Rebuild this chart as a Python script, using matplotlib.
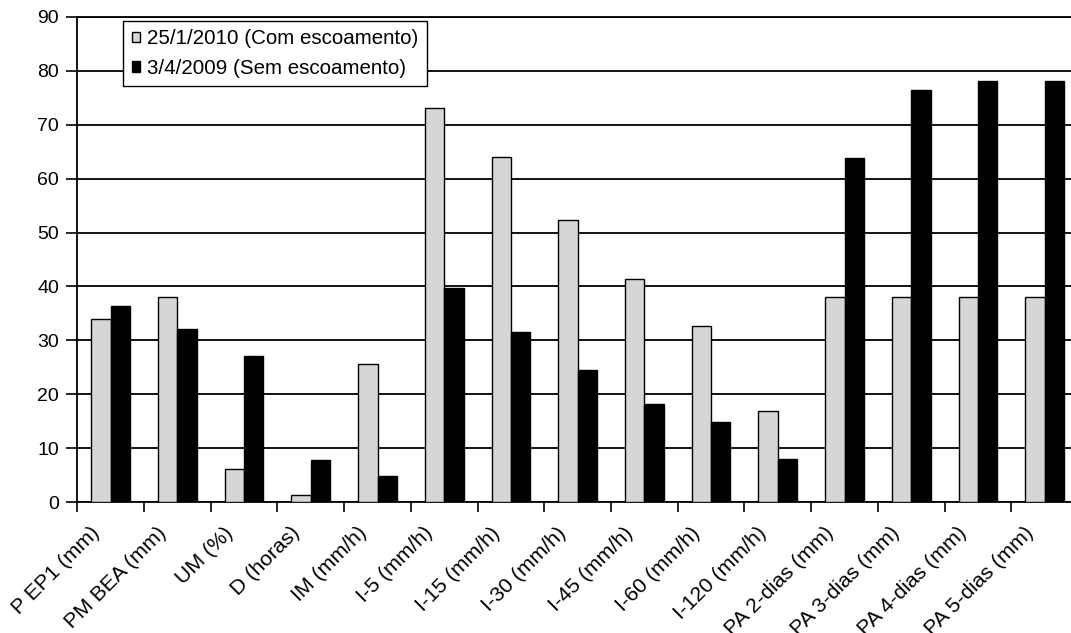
import matplotlib
matplotlib.use("Agg")
import matplotlib.pyplot as plt
import numpy as np

categories = ["P EP1 (mm)", "PM BEA (mm)", "UM (%)", "D (horas)", "IM (mm/h)",
              "I-5 (mm/h)", "I-15 (mm/h)", "I-30 (mm/h)", "I-45 (mm/h)",
              "I-60 (mm/h)", "I-120 (mm/h)", "PA 2-dias (mm)", "PA 3-dias (mm)",
              "PA 4-dias (mm)", "PA 5-dias (mm)"]
com_escoamento = [34.0, 38.1, 6.1, 1.4, 25.6, 73.0, 64.0, 52.3, 41.4, 32.6, 16.9,
                  38.1, 38.1, 38.1, 38.1]
sem_escoamento = [36.4, 32.1, 27.1, 7.9, 4.9, 39.8, 31.6, 24.6, 18.2, 14.9, 8.0,
                  63.9, 76.4, 78.1, 78.1]
label_com = "25/1/2010 (Com escoamento)"
label_sem = "3/4/2009 (Sem escoamento)"
yticks = list(range(0, 100, 10))

plt.rcParams['font.family'] = ['Liberation Sans', 'DejaVu Sans']

W, H = 1071, 633
fig = plt.figure(figsize=(W / 100, H / 100), dpi=100)
left, right, top, bottom = 77.3, 1078, 16.7, 502.3
ax = fig.add_axes([left / W, 1 - bottom / H, (right - left) / W, (bottom - top) / H])

x = np.arange(len(categories))
bw = 0.29
ax.bar(x - bw / 2, com_escoamento, bw, color='#d6d6d6', edgecolor='black',
       linewidth=1.0, label=label_com, zorder=3)
ax.bar(x + bw / 2, sem_escoamento, bw, color='black', edgecolor='black',
       linewidth=1.0, label=label_sem, zorder=3)

ax.set_xlim(-0.5, len(categories) - 0.5)
ax.set_ylim(0, 90)
ax.set_yticks(yticks)
ax.yaxis.grid(True, color='black', linewidth=1.3, zorder=1)
ax.set_axisbelow(True)

# category boundary ticks (no labels) and label anchors slightly left of centres
ax.set_xticks(np.arange(len(categories) + 1) - 0.5)
ax.set_xticklabels([])
ax.set_xticks(x - 0.21, minor=True)
ax.set_xticklabels(categories, minor=True, rotation=45, ha='right',
                   va='center', rotation_mode='anchor', fontsize=15.3)
ax.tick_params(axis='x', which='minor', length=0, pad=20)
ax.tick_params(axis='x', which='major', length=7, width=1.2, direction='out')
ax.tick_params(axis='y', length=8, width=1.2, direction='out', labelsize=14, pad=5)

for s in ['left', 'bottom']:
    ax.spines[s].set_linewidth(1.3)
ax.spines['top'].set_linewidth(1.3)
ax.spines['right'].set_visible(False)

leg = ax.legend(loc='upper left', bbox_to_anchor=(0.046, 0.991), borderaxespad=0,
                fontsize=14.8, handlelength=0.42, handleheight=0.42, handletextpad=0.35,
                fancybox=False, framealpha=1, edgecolor='black', borderpad=0.4,
                labelspacing=0.5)
leg.get_frame().set_linewidth(1.0)

fig.savefig("out.png", dpi=100)
